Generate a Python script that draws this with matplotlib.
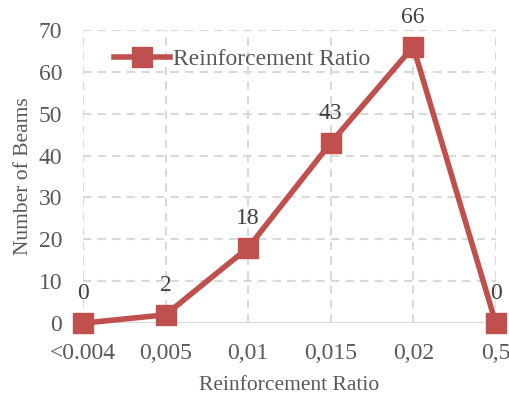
import matplotlib
matplotlib.use("Agg")
import matplotlib.pyplot as plt

categories = ["<0.004", "0,005", "0,01", "0,015", "0,02", "0,5"]
beams = [0, 2, 18, 43, 66, 0]
y_ticks = [0, 10, 20, 30, 40, 50, 60, 70]

red = "#C0504D"
text_color = "#595959"
grid_color = "#D9D9D9"

plt.rcParams["font.family"] = ["Liberation Serif", "DejaVu Serif"]

fig = plt.figure(figsize=(5.09, 3.98), dpi=100)
ax = fig.add_axes([0.163, 0.188, 0.811, 0.737])

x = list(range(len(categories)))
ax.plot(x, beams, color=red, lw=4, marker="s", ms=14, mfc=red, mec=red,
        label="Reinforcement Ratio", zorder=3, clip_on=False)

for xi, v in zip(x, beams):
    ax.annotate(str(v), (xi, v), xytext=(0, 13.5), textcoords="offset points",
                ha="center", va="bottom", fontsize=17, color="#404040")

ax.set_xlim(0, len(categories) - 1)
ax.set_ylim(0, 70)
ax.set_xticks(x)
ax.set_xticklabels(categories)
ax.set_yticks(y_ticks)
ax.tick_params(length=0, labelsize=17, colors=text_color)
ax.tick_params(axis="x", pad=14)
ax.tick_params(axis="y", pad=15)

for s in ax.spines.values():
    s.set_visible(False)
ax.grid(True, color=grid_color, lw=1.5, ls=(0, (4, 3)))
ax.axhline(0, color=grid_color, lw=1.5, zorder=1)

ax.set_xlabel("Reinforcement Ratio", fontsize=15.5, color=text_color, labelpad=9)
ax.set_ylabel("Number of Beams", fontsize=15.5, color=text_color, labelpad=4)

leg = ax.legend(loc="upper left", bbox_to_anchor=(0.04, 0.985), frameon=False,
                fontsize=17, handlelength=2.4, handletextpad=0.1,
                borderaxespad=0.2)
for t in leg.get_texts():
    t.set_color(text_color)

fig.savefig("out.png", dpi=100)
